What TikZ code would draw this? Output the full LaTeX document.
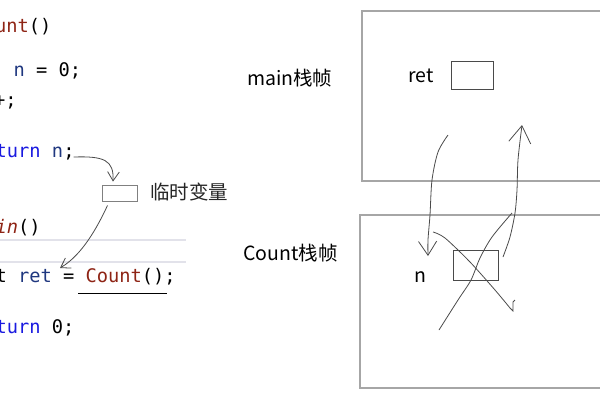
\documentclass[tikz,border=0pt]{standalone}
\usepackage{fontspec}
\setmainfont{Noto Sans CJK SC}
\newfontfamily\codefont{DejaVu Sans Mono}
\usepackage{tikz}
\usetikzlibrary{arrows.meta}
\definecolor{fnred}{HTML}{8E2415}
\definecolor{kwblue}{HTML}{1A1AE0}
\definecolor{varblue}{HTML}{1F377F}
\definecolor{framegray}{HTML}{A6A6A6}
\definecolor{pencil}{HTML}{4A4A4A}
\definecolor{rulegray}{HTML}{E2E2EA}
\tikzset{
  codeline/.style={anchor=base west, inner sep=0pt, font=\codefont\fontsize{18.7}{20}\selectfont},
  framename/.style={anchor=base west, inner sep=0pt, font=\fontsize{19.5}{22}\selectfont},
  stackframe/.style={draw=framegray, line width=1.8pt},
  cell/.style={draw=#1, line width=0.9pt, inner sep=0pt},
  scribble/.style={draw=pencil, line width=0.8pt},
  handarrow/.style={scribble, -{Straight Barb[length=#1, width=1.3*#1]}},
  handarrow/.default=9pt
}

\begin{document}
\begin{tikzpicture}[x=1pt, y=-1pt]
\useasboundingbox (0,0) rectangle (600,400);
\clip (0,0) rectangle (600,400);

% code on the left
\node[codeline, text=fnred] (cnthead) at (-5,32) {unt\textcolor{black}{()}};
\node[codeline] (nInit) at (13.5,76) {\textcolor{varblue}{n} = 0;};
\node[codeline] (nInc) at (-6,106) {+;};
\node[codeline] (retN) at (-4.5,157) {\textcolor{kwblue}{turn} \textcolor{varblue}{n};};
\node[codeline] (mainhead) at (-4.5,233) {\textcolor{fnred}{\itshape in}()};
\node[codeline] (callLine) at (-4.6,282) {t \textcolor{varblue}{ret} = \textcolor{fnred}{Count}();};
\node[codeline] (ret0) at (-4.5,333) {\textcolor{kwblue}{turn} 0;};
\draw[rulegray, line width=1.5pt] (0,240) -- (186,240);
\draw[rulegray, line width=1.5pt] (0,262) -- (186,262);
\draw[black, line width=0.9pt] (78,293) -- (167,293);

\node[cell=gray, minimum width=35pt, minimum height=16pt] (tmp) at (119.5,193) {};
\node[framename, text=black!85] (tmplabel) at (150,199) {临时变量};
\coordinate (eqmark) at (60,268);
\draw[handarrow] ([xshift=-1pt]retN.base east) .. controls (104,156) and (114,160) .. ([xshift=-6.5pt,yshift=3pt]tmp.north);
\draw[handarrow] ([xshift=-12pt,yshift=-4pt]tmp.south) .. controls (97,228) and (82,255) .. (eqmark);

% stack frames
\draw[stackframe] (362,11) rectangle (620,181);
\draw[stackframe] (360,215) rectangle (620,388);
\node[framename] (mainname) at (247,85) {main栈帧};
\node[framename] (countname) at (243,260) {Count栈帧};
\node[framename] (retname) at (408,82) {ret};
\node[cell=pencil, minimum width=42pt, minimum height=28pt] (retcell) at (472,75) {};
\node[framename] (nname) at (414,282) {n};
\node[cell=pencil, minimum width=45pt, minimum height=30pt] (ncell) at (475.5,265) {};

% hand drawn strokes
\coordinate (retout) at (448,135);
\coordinate (nin) at (428,256);
\coordinate (nout) at (503,257);
\coordinate (retin) at (522,125);
\draw[handarrow=14pt] plot[smooth] coordinates {(retout) (438,152) (432,180) (430,215) (428,240) (nin)};
\draw[handarrow=17pt] plot[smooth] coordinates {(nout) (510,237) (515,213) (517,190) (518,160) (retin)};
\draw[scribble] plot[smooth] coordinates {(433,232) (445,238) (470,262) (495,290) (510,308)} -- (513,311) -- (513,302) -- (515,300);
\draw[scribble] plot[smooth] coordinates {(439,330) (458,300) (471,280) (480,258) (492,237) (512,213)};
\end{tikzpicture}
\end{document}
